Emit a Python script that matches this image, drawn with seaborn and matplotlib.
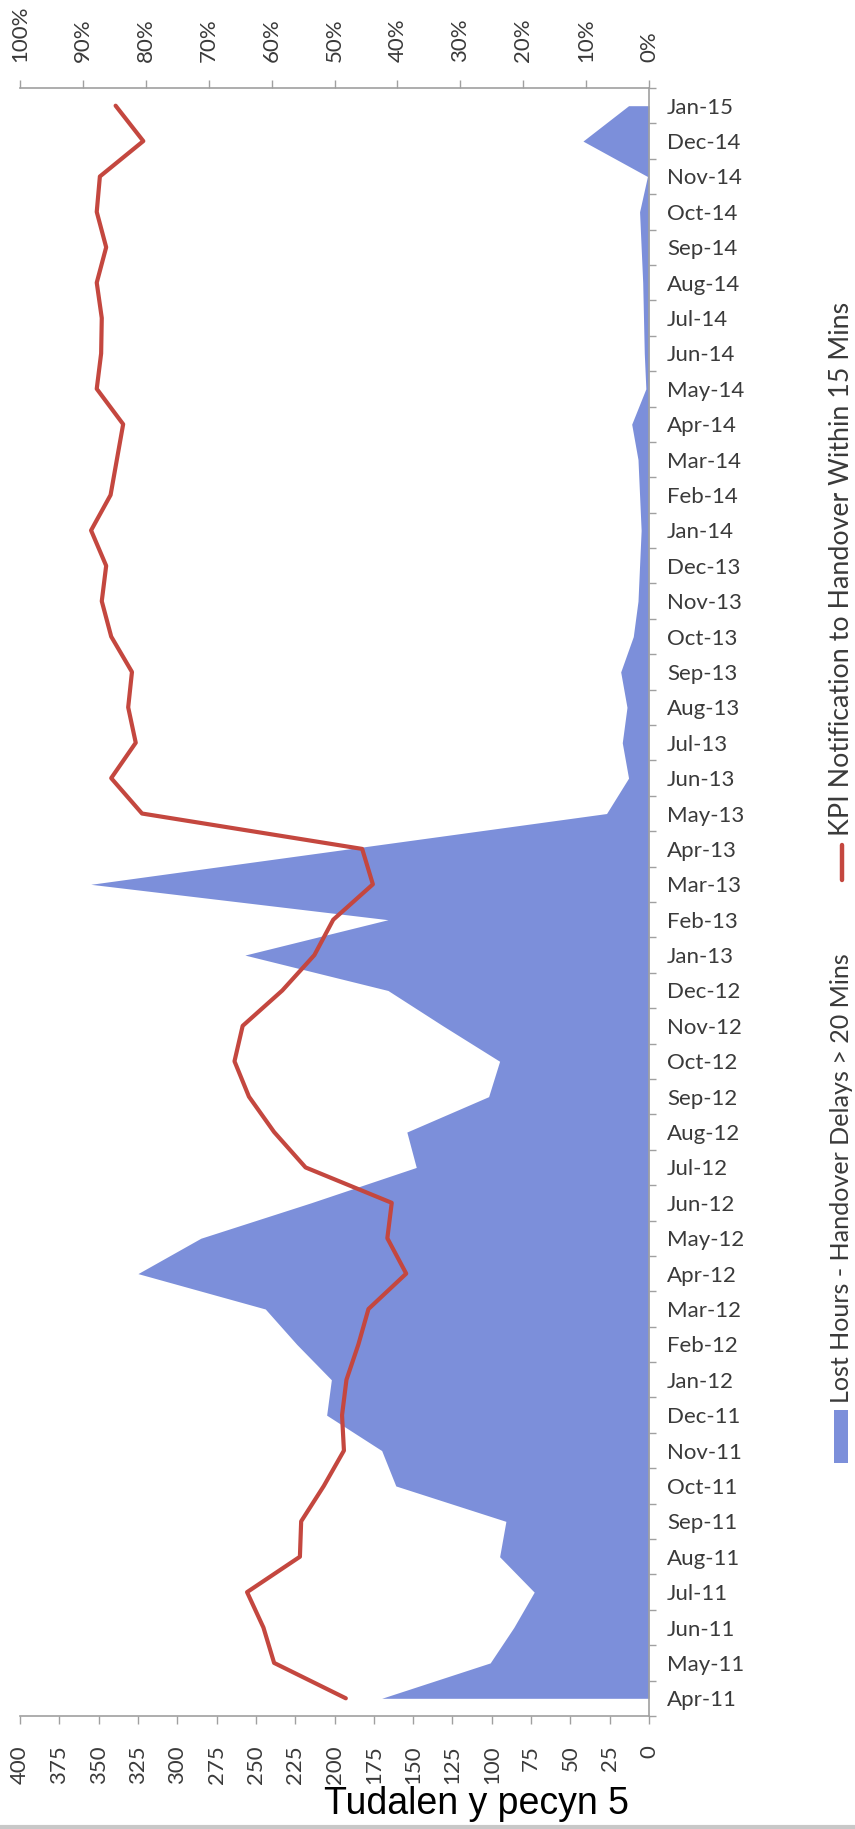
import numpy as np
import pandas as pd
import matplotlib
matplotlib.use("Agg")
import matplotlib.pyplot as plt
import seaborn as sns
from matplotlib.patches import Rectangle
from matplotlib.lines import Line2D
from matplotlib import font_manager as fm

# ---------------- data ----------------
months = ["Apr-11", "May-11", "Jun-11", "Jul-11", "Aug-11", "Sep-11", "Oct-11", "Nov-11",
          "Dec-11", "Jan-12", "Feb-12", "Mar-12", "Apr-12", "May-12", "Jun-12", "Jul-12",
          "Aug-12", "Sep-12", "Oct-12", "Nov-12", "Dec-12", "Jan-13", "Feb-13", "Mar-13",
          "Apr-13", "May-13", "Jun-13", "Jul-13", "Aug-13", "Sep-13", "Oct-13", "Nov-13",
          "Dec-13", "Jan-14", "Feb-14", "Mar-14", "Apr-14", "May-14", "Jun-14", "Jul-14",
          "Aug-14", "Sep-14", "Oct-14", "Nov-14", "Dec-14", "Jan-15"]

lost_hours = [170, 101, 86, 73, 95, 91, 161, 170, 205, 202,
              224, 244, 325, 285, 215, 148, 154, 102, 95, 131,
              166, 257, 166, 355, 191, 27, 13, 17, 14, 18,
              10, 7, 6, 5, 6, 7, 11, 2, 3, 3.5,
              4, 5, 6, 1, 42, 13]

kpi_pct = [48.2, 59.6, 61.3, 63.9, 55.5, 55.3, 51.7, 48.5, 48.8, 48.1,
           46.2, 44.6, 38.6, 41.6, 40.9, 54.6, 59.6, 63.6, 65.9, 64.6,
           58.3, 53.2, 50.2, 43.9, 45.6, 80.6, 85.5, 81.6, 82.8, 82.2,
           85.5, 87.0, 86.3, 88.7, 85.6, 84.6, 83.6, 87.8, 87.1, 87.0,
           87.8, 86.3, 87.8, 87.3, 80.4, 84.8]

hour_ticks = list(range(0, 401, 25))
pct_ticks = list(range(0, 101, 10))
pct_tick_labels = [f"{p}%" for p in pct_ticks]

series_names = ["Lost Hours - Handover Delays > 20 Mins",
                "KPI Notification to Handover Within 15 Mins"]
footer = "Tudalen y pecyn 5"

# ---------------- style ----------------
BLUE = "#7C8FDA"
RED = "#C4473F"
AXIS_GRAY = "#A0A0A0"
TEXT = "#3A3A3A"

sns.set_theme(style="white")
plt.rcParams["font.family"] = ["Lato", "DejaVu Sans"]

W, H = 855, 1829
fig = plt.figure(figsize=(W / 100, H / 100), dpi=100)
fig.patch.set_facecolor("white")

def fx(px):
    return px / W

def fy(py):
    return 1 - py / H

left, right, top, bottom = 20, 649, 88, 1716
ax = fig.add_axes([fx(left), fy(bottom), (right - left) / W, (bottom - top) / H])

df = pd.DataFrame({"idx": np.arange(len(months)), "hours": lost_hours, "pct": kpi_pct})

# area (hours) - horizontal because the chart is turned on its side
ax.fill_betweenx(df["idx"], 0, df["hours"], color=BLUE, lw=0, zorder=2)
ax.set_xlim(400, 0)
ax.set_ylim(-0.5, len(months) - 0.5)

# line (percent) on a twin axis sharing the month axis
ax2 = ax.twiny()
sns.lineplot(data=df, x="pct", y="idx", orient="y", sort=False, ax=ax2,
             color=RED, lw=3.0, zorder=3)
ax2.set_xlim(100, 0)
ax2.set_ylim(-0.5, len(months) - 0.5)
ax2.set_xlabel("")
ax2.set_ylabel("")
ax.set_xlabel("")
ax.set_ylabel("")

# hours axis (bottom)
ax.set_xticks(hour_ticks)
ax.set_xticklabels([str(h) for h in hour_ticks])
ax.tick_params(axis="x", which="major", direction="out", length=6, width=1,
               color=AXIS_GRAY, pad=15, labelsize=16, labelrotation=90,
               labelcolor=TEXT, bottom=True)

# percent axis (top)
ax2.set_xticks(pct_ticks)
ax2.set_xticklabels(pct_tick_labels)
ax2.tick_params(axis="x", which="major", direction="out", length=6, width=1,
                color=AXIS_GRAY, pad=13, labelsize=16, labelrotation=90,
                labelcolor=TEXT, top=True)

# month axis (right)
ax.yaxis.tick_right()
ax.set_yticks(np.arange(-0.5, len(months), 1.0))
ax.set_yticklabels([])
ax.set_yticks(df["idx"], minor=True)
ax.set_yticklabels(months, minor=True)
ax.tick_params(axis="y", which="major", direction="out", length=5, width=1,
               color=AXIS_GRAY, right=True, left=False, labelright=False)
ax.tick_params(axis="y", which="minor", length=0, pad=13, labelsize=16,
               labelcolor=TEXT, right=True, left=False, labelright=True)

for s in ["top", "left"]:
    ax.spines[s].set_visible(False)
for s in ["bottom", "right"]:
    ax.spines[s].set_color(AXIS_GRAY)
    ax.spines[s].set_linewidth(1.2)
for s in ["bottom", "left", "right"]:
    ax2.spines[s].set_visible(False)
ax2.spines["top"].set_color(AXIS_GRAY)
ax2.spines["top"].set_linewidth(1.2)
ax.grid(False)
ax2.grid(False)
ax.set_facecolor("none")
if ax2.get_legend() is not None:
    ax2.get_legend().remove()

# ---------------- legend (rotated) ----------------
fig.add_artist(Rectangle((fx(834), fy(1463)), 14 / W, 53 / H, transform=fig.transFigure,
                         facecolor=BLUE, edgecolor="none"))
fig.add_artist(Line2D([fx(842), fx(842)], [fy(880), fy(845)], transform=fig.transFigure,
                      color=RED, lw=3.2))

fig.canvas.draw()
renderer = fig.canvas.get_renderer()

def fitted_text(x_px, y_bottom_px, y_top_px, s, base=18.0):
    t = fig.text(fx(x_px), fy(y_bottom_px), s, rotation=90, ha="center", va="bottom",
                 fontsize=base, color=TEXT)
    ext = t.get_window_extent(renderer)
    target = y_bottom_px - y_top_px
    t.set_fontsize(base * target / ext.height)
    return t

fitted_text(841, 1403, 952, series_names[0])
fitted_text(841, 836, 306, series_names[1])

# ---------------- footer ----------------
def has_font(name):
    try:
        fm.findfont(fm.FontProperties(family=name), fallback_to_default=False)
        return True
    except Exception:
        return False

if has_font("Liberation Sans Narrow"):
    fig.text(fx(477), fy(1804), footer, ha="center", va="center", fontsize=32,
             family=["Liberation Sans Narrow", "DejaVu Sans"], color="black")
else:
    fig.text(fx(477), fy(1804), footer, ha="center", va="center", fontsize=27,
             family=["Liberation Sans", "DejaVu Sans"], color="black")

fig.add_artist(Line2D([0, 1], [fy(1827), fy(1827)], transform=fig.transFigure,
                      color="#C8C8C8", lw=3))

fig.savefig("out.png", dpi=100, facecolor="white")
